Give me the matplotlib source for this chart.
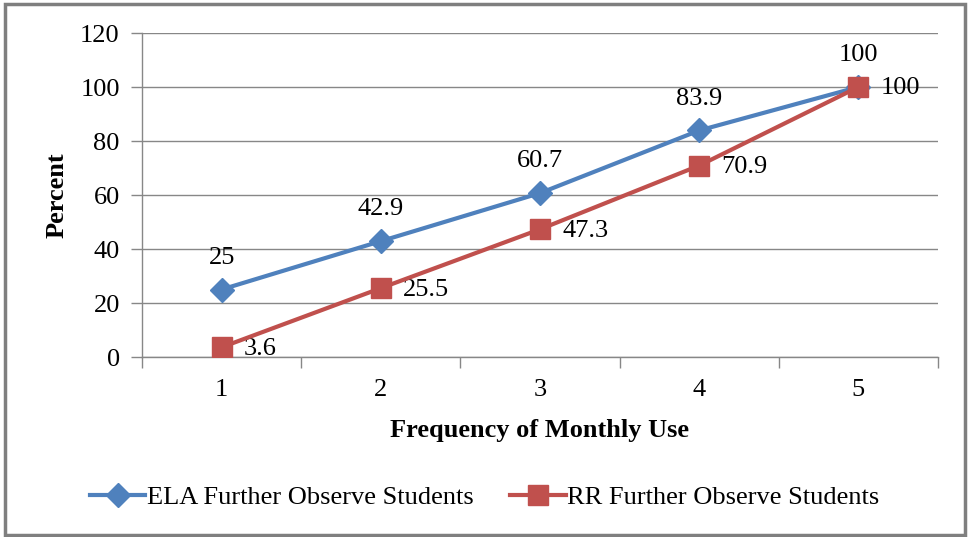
import matplotlib.pyplot as plt
from matplotlib.patches import Rectangle

plt.rcParams['font.family'] = ['Liberation Serif', 'DejaVu Serif']

# monthly use frequency vs. percent of students
frequency = [1, 2, 3, 4, 5]
ela = [25, 42.9, 60.7, 83.9, 100]
rr = [3.6, 25.5, 47.3, 70.9, 100]
ela_name = 'ELA Further Observe Students'
rr_name = 'RR Further Observe Students'

blue = '#4F81BD'
red = '#C0504D'
grid_col = '#878787'

fig = plt.figure(figsize=(9.69, 5.37), dpi=100)
ax = fig.add_axes([142 / 969, 1 - 357 / 537, (938 - 142) / 969, (357 - 33) / 537])

ax.plot(frequency, ela, color=blue, lw=3, marker='D', ms=12,
        mec=blue, mfc=blue, label=ela_name, zorder=3)
ax.plot(frequency, rr, color=red, lw=3, marker='s', ms=15,
        mec=red, mfc=red, label=rr_name, zorder=4)

fs = 19
for x, v in zip(frequency, ela):
    ax.annotate(f'{v:g}', (x, v), xytext=(0, 15), textcoords='offset points',
                ha='center', va='bottom', fontsize=fs)
for x, v in zip(frequency, rr):
    ax.annotate(f'{v:g}', (x, v), xytext=(16, -1), textcoords='offset points',
                ha='left', va='center', fontsize=fs)

ax.set_xlim(0.5, 5.5)
ax.set_ylim(0, 120)
ax.set_yticks(range(0, 121, 20))
ax.set_xticks(frequency)
ax.set_xticks([0.5, 1.5, 2.5, 3.5, 4.5, 5.5], minor=True)
ax.tick_params(axis='x', which='major', length=0, pad=16, labelsize=fs)
ax.tick_params(axis='x', which='minor', length=8, width=1, color=grid_col, direction='out')
ax.tick_params(axis='y', length=8, width=1, color=grid_col, pad=8, labelsize=fs)
ax.yaxis.grid(True, color=grid_col, lw=1)
ax.set_axisbelow(True)
for s in ['top', 'right']:
    ax.spines[s].set_visible(False)
for s in ['left', 'bottom']:
    ax.spines[s].set_color(grid_col)
    ax.spines[s].set_linewidth(1)

ax.set_xlabel('Frequency of Monthly Use', fontsize=fs, fontweight='bold', labelpad=13)
ax.set_ylabel('Percent', fontsize=fs, fontweight='bold', labelpad=8)

fig.legend(loc='center', bbox_to_anchor=(0.5, 1 - 497 / 537), ncol=2, frameon=False,
           fontsize=fs, handlelength=2.1, columnspacing=1.4, handletextpad=0.05)

fig.patches.append(Rectangle((5 / 969, 2 / 537), 960 / 969, 531 / 537,
                             transform=fig.transFigure, fill=False,
                             edgecolor='#7f7f7f', lw=2.5))

fig.savefig('out.png', dpi=100)
